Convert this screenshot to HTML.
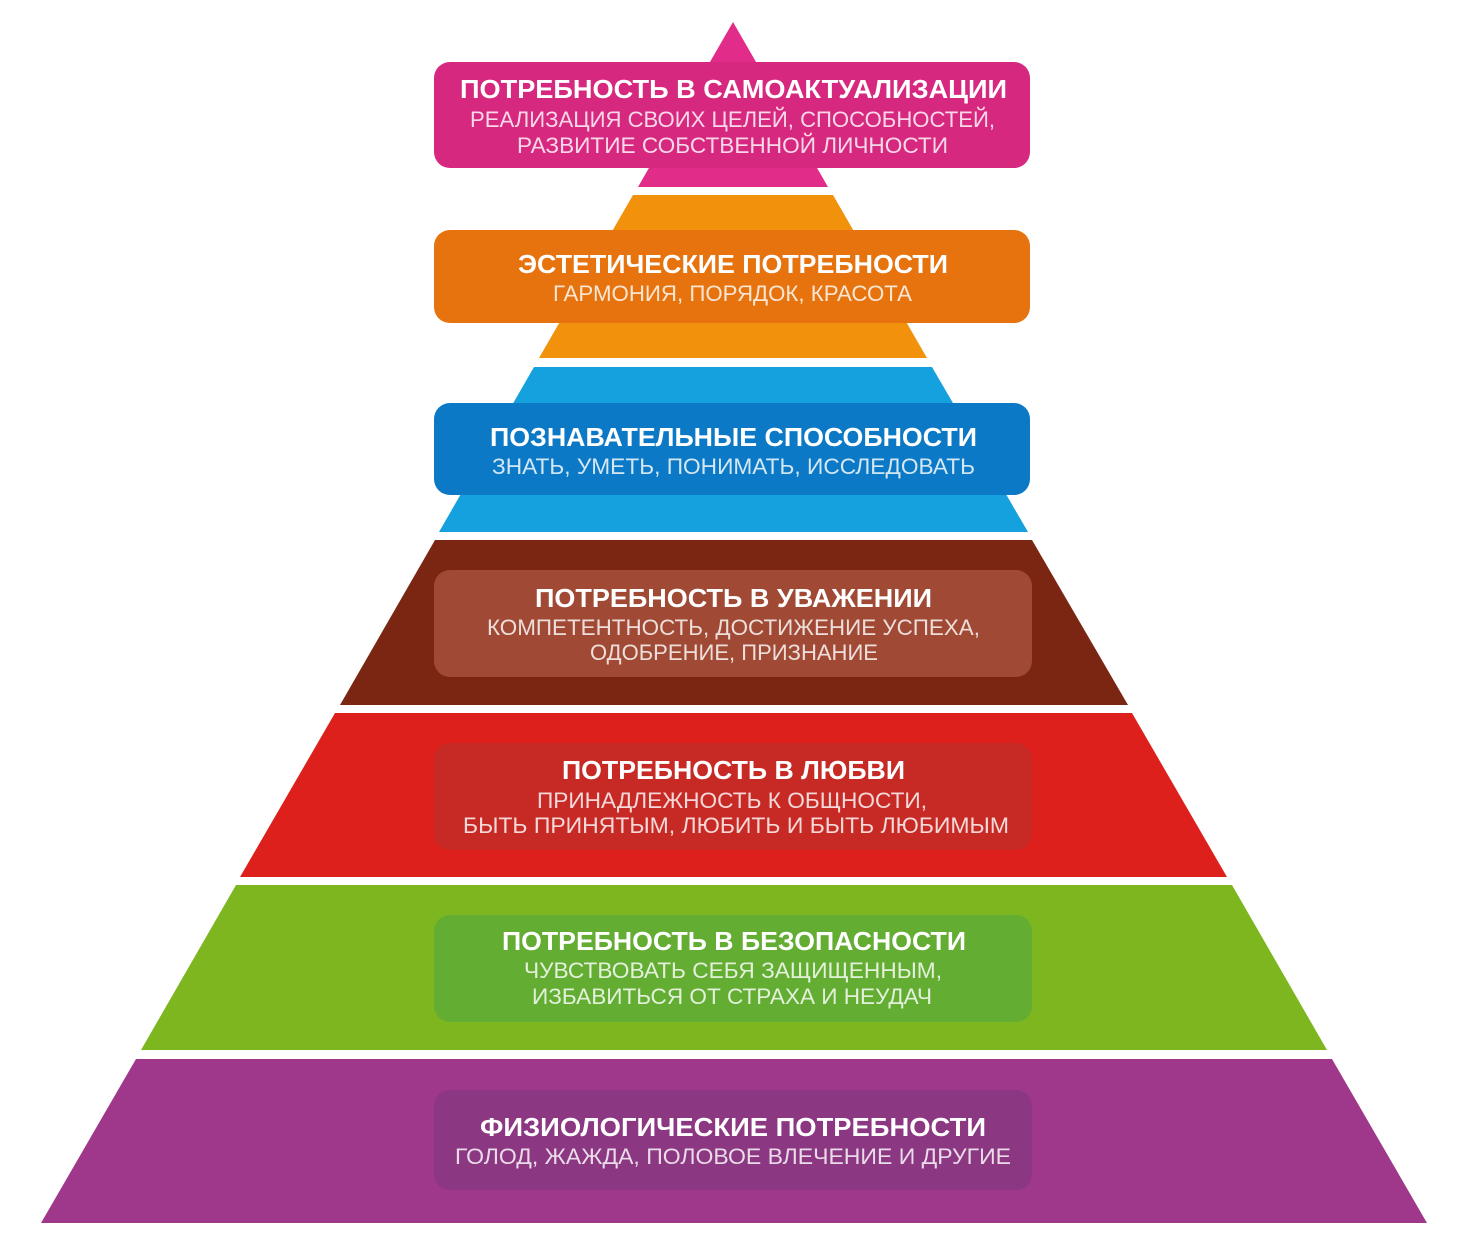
<!DOCTYPE html>
<html><head><meta charset="utf-8"><style>
html,body{margin:0;padding:0;background:#fff;}
svg{display:block}
text{font-family:"Liberation Sans","DejaVu Sans",sans-serif;text-anchor:start}
.t{font-weight:bold;font-size:26px;fill:#fff}
.s{font-size:22px;fill:#fff;fill-opacity:.82}
</style></head><body>
<svg width="1460" height="1251" viewBox="0 0 1460 1251" xmlns="http://www.w3.org/2000/svg">
<rect width="1460" height="1251" fill="#fff"/>
<polygon points="733,22 828,187 638,187" fill="#e22c8a"/>
<polygon points="633,195 833,195 927,358 539,358" fill="#f2920c"/>
<polygon points="534,367 932,367 1028,532 439,532" fill="#14a1de"/>
<polygon points="435,540 1032,540 1128,705 340,705" fill="#7a2612"/>
<polygon points="335,713 1132,713 1227,877 240,877" fill="#dd201c"/>
<polygon points="236,885 1232,885 1327,1050 141,1050" fill="#7db61f"/>
<polygon points="136,1059 1332,1059 1427,1223 41,1223" fill="#9f388a"/>

<rect x="434" y="62" width="596" height="106" rx="16" fill="#d7287f"/>
<rect x="434" y="230" width="596" height="93" rx="16" fill="#e6730e"/>
<rect x="434" y="403" width="596" height="92" rx="16" fill="#0b79c5"/>
<rect x="434" y="570" width="598" height="107" rx="16" fill="#a04a36"/>
<rect x="434" y="743" width="598" height="107" rx="16" fill="#c72a25"/>
<rect x="434" y="915" width="598" height="107" rx="16" fill="#63ad33"/>
<rect x="434" y="1090" width="598" height="100" rx="16" fill="#8b3782"/>

<text class="t" x="460" y="98" textLength="547" lengthAdjust="spacingAndGlyphs">ПОТРЕБНОСТЬ В САМОАКТУАЛИЗАЦИИ</text>
<text class="s" x="470" y="127" textLength="525" lengthAdjust="spacingAndGlyphs">РЕАЛИЗАЦИЯ СВОИХ ЦЕЛЕЙ, СПОСОБНОСТЕЙ,</text>
<text class="s" x="517" y="153" textLength="431" lengthAdjust="spacingAndGlyphs">РАЗВИТИЕ СОБСТВЕННОЙ ЛИЧНОСТИ</text>

<text class="t" x="518" y="273" textLength="430" lengthAdjust="spacingAndGlyphs">ЭСТЕТИЧЕСКИЕ ПОТРЕБНОСТИ</text>
<text class="s" x="553" y="301" textLength="359" lengthAdjust="spacingAndGlyphs">ГАРМОНИЯ, ПОРЯДОК, КРАСОТА</text>

<text class="t" x="490" y="446" textLength="487" lengthAdjust="spacingAndGlyphs">ПОЗНАВАТЕЛЬНЫЕ СПОСОБНОСТИ</text>
<text class="s" x="492" y="474" textLength="483" lengthAdjust="spacingAndGlyphs">ЗНАТЬ, УМЕТЬ, ПОНИМАТЬ, ИССЛЕДОВАТЬ</text>

<text class="t" x="535" y="607" textLength="397" lengthAdjust="spacingAndGlyphs">ПОТРЕБНОСТЬ В УВАЖЕНИИ</text>
<text class="s" x="487" y="635" textLength="493" lengthAdjust="spacingAndGlyphs">КОМПЕТЕНТНОСТЬ, ДОСТИЖЕНИЕ УСПЕХА,</text>
<text class="s" x="590" y="660" textLength="288" lengthAdjust="spacingAndGlyphs">ОДОБРЕНИЕ, ПРИЗНАНИЕ</text>

<text class="t" x="562" y="779" textLength="343" lengthAdjust="spacingAndGlyphs">ПОТРЕБНОСТЬ В ЛЮБВИ</text>
<text class="s" x="537" y="808" textLength="390" lengthAdjust="spacingAndGlyphs">ПРИНАДЛЕЖНОСТЬ К ОБЩНОСТИ,</text>
<text class="s" x="463" y="833" textLength="546" lengthAdjust="spacingAndGlyphs">БЫТЬ ПРИНЯТЫМ, ЛЮБИТЬ И БЫТЬ ЛЮБИМЫМ</text>

<text class="t" x="502" y="950" textLength="464" lengthAdjust="spacingAndGlyphs">ПОТРЕБНОСТЬ В БЕЗОПАСНОСТИ</text>
<text class="s" x="524" y="978" textLength="418" lengthAdjust="spacingAndGlyphs">ЧУВСТВОВАТЬ СЕБЯ ЗАЩИЩЕННЫМ,</text>
<text class="s" x="532" y="1004" textLength="400" lengthAdjust="spacingAndGlyphs">ИЗБАВИТЬСЯ ОТ СТРАХА И НЕУДАЧ</text>

<text class="t" x="480" y="1136" textLength="506" lengthAdjust="spacingAndGlyphs">ФИЗИОЛОГИЧЕСКИЕ ПОТРЕБНОСТИ</text>
<text class="s" x="455" y="1164" textLength="556" lengthAdjust="spacingAndGlyphs">ГОЛОД, ЖАЖДА, ПОЛОВОЕ ВЛЕЧЕНИЕ И ДРУГИЕ</text>
</svg>
</body></html>
